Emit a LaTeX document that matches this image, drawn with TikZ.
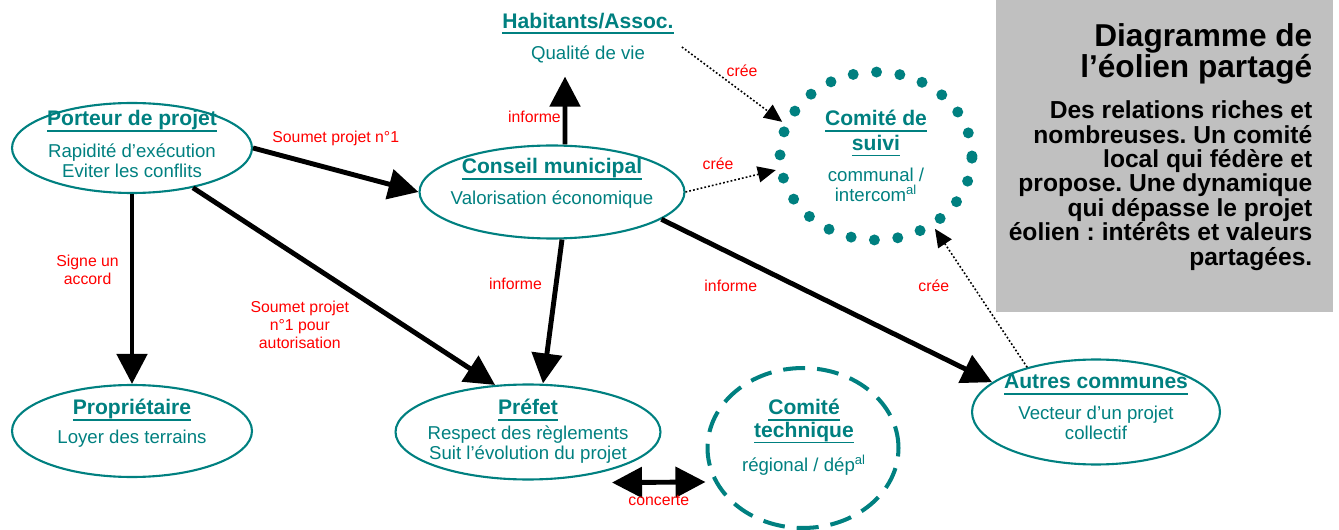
\documentclass[tikz,border=0pt]{standalone}
\usepackage{fontspec}
\setmainfont{Liberation Sans}
\usetikzlibrary{arrows.meta,positioning,shapes.geometric}
\frenchspacing

\definecolor{sarcelle}{RGB}{0,128,128}
\definecolor{rouge}{RGB}{255,0,0}
\definecolor{grisfond}{RGB}{192,192,192}

% titre souligne des acteurs
\newcommand{\entete}[1]{{\fontsize{12}{14}\selectfont\bfseries\setbox0=\hbox{#1}\rlap{\raisebox{-3.6pt}[0pt][0pt]{\rule{\wd0}{1.1pt}}}\box0}}

\begin{document}
\begin{tikzpicture}[x=0.02cm, y=-0.02cm,
  acteur/.style={ellipse, draw=sarcelle, line width=1.2pt, inner sep=0pt},
  texte/.style={align=center, text=sarcelle, inner sep=0pt, font=\fontsize{10.6}{11.4}\selectfont},
  lbl/.style={text=rouge, inner sep=1pt, align=center, font=\fontsize{9}{10.2}\selectfont},
  fleche/.style={line width=2.8pt, -{Triangle[length=0.6cm,width=0.6cm]}},
  fleche2/.style={line width=2.8pt, {Triangle[length=0.6cm,width=0.6cm]}-{Triangle[length=0.6cm,width=0.6cm]}},
  pointille/.style={line width=0.9pt, dash pattern=on 1pt off 1.2pt, -{Triangle[length=0.36cm,width=0.32cm]}}]
  \useasboundingbox (0,0) rectangle (1339,530);

  % encadre de droite
  \node[fill=grisfond, inner sep=0pt, minimum width=6.74cm, minimum height=6.24cm, anchor=north west] (cadre) at (996,0) {};
  \node[align=right, inner sep=0pt, font=\fontsize{18}{17}\selectfont\bfseries, below left=0.46cm and 0.42cm of cadre.north east] (titre) {Diagramme de\\l’éolien partagé};
  \node[align=right, inner sep=0pt, font=\fontsize{14}{13.9}\selectfont\bfseries, below left=0.31cm and 0cm of titre.south east] (resume) {Des relations riches et\\nombreuses. Un comité\\local qui fédère et\\propose. Une dynamique\\qui dépasse le projet\\éolien : intérêts et valeurs\\partagées.};

  % acteurs
  \node[acteur, minimum width=4.8cm, minimum height=1.8cm] (porteur) at (132,148) {};
  \node[texte] (porteur-t) at (132,144) {\entete{Porteur de projet}\\[7.2pt]Rapidité d’exécution\\Eviter les conflits};

  \node[acteur, minimum width=5.3cm, minimum height=1.86cm] (conseil) at (552,192) {};
  \node[texte] (conseil-t) at (552,183) {\entete{Conseil municipal}\\[6.2pt]Valorisation économique};

  \node[acteur, minimum width=4.8cm, minimum height=1.84cm] (proprio) at (132,431) {};
  \node[texte] (proprio-t) at (132,423) {\entete{Propriétaire}\\[5pt]Loyer des terrains};

  \node[acteur, minimum width=5.3cm, minimum height=1.9cm] (prefet) at (528,432) {};
  \node[texte] (prefet-t) at (528,431) {\entete{Préfet}\\[2.8pt]Respect des règlements\\Suit l’évolution du projet};

  \node[acteur, minimum width=4.96cm, minimum height=2.1cm] (autres) at (1096,412) {};
  \node[texte] (autres-t) at (1096,407) {\entete{Autres communes}\\[6.6pt]Vecteur d’un projet\\collectif};

  \node[acteur, line width=0.22cm, dash pattern=on 0pt off 0.47cm, line cap=round, minimum width=3.84cm, minimum height=3.36cm] (suivi) at (876,156) {};
  \node[texte] (suivi-t) at (876,156) {\entete{Comité de}\\[2.6pt]\entete{suivi}\\[6.6pt]communal /\\intercom\textsuperscript{al}};

  \node[acteur, line width=2.3pt, dash pattern=on 0.44cm off 0.24cm, minimum width=3.82cm, minimum height=3.2cm] (technique) at (803,448) {};
  \node[texte] (technique-t) at (804,437) {\entete{Comité}\\[1.6pt]\entete{technique}\\[6.6pt]régional / dép\textsuperscript{al}};

  \node[texte] (habitants) at (588,38) {\entete{Habitants/Assoc.}\\[6.6pt]Qualité de vie};

  % relations
  \draw[fleche] (porteur.east) -- node[lbl, above=0.4cm] {Soumet projet n°1} (conseil.west);
  \draw[fleche] (porteur.south) -- node[lbl, pos=0.4, left=0.18cm] {Signe un\\accord} (proprio.north);
  \draw[fleche] (porteur) -- node[lbl, pos=0.54, below left=0.08cm] {Soumet projet\\n°1 pour\\autorisation} (prefet.125);
  \draw[fleche] ([xshift=0.26cm]conseil.north) -- node[lbl, pos=0.4, left=0pt] {informe} ([shift={(-23,13)}]habitants.south);
  \draw[fleche] ([xshift=0.2cm]conseil.south) -- node[lbl, pos=0.31, left=0.2cm] {informe} ([xshift=0.3cm]prefet.north);
  \draw[fleche] (conseil.-14) -- node[lbl, pos=0.21, below=0.45cm] {informe} (autres.164);
  \draw[fleche2] ([shift={(84,2)}]prefet.south) -- node[lbl, below=0.18cm] {concerte} ([shift={(0,34)}]technique.west);

  \draw[pointille] ([shift={(8,9)}]habitants.east) -- node[lbl, pos=0.6, above=0.26cm] {crée} (suivi.160);
  \draw[pointille] (conseil.east) -- node[lbl, pos=0.36, above=0.24cm] {crée} (suivi.188);
  \draw[pointille] (autres.147) -- node[lbl, pos=0.59, left=0.42cm] {crée} (suivi.-51);
\end{tikzpicture}
\end{document}
